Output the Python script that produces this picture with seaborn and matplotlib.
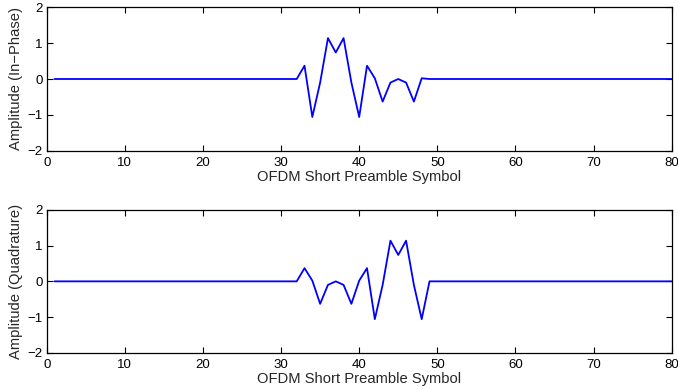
import numpy as np
import pandas as pd
import matplotlib
matplotlib.use("Agg")
import matplotlib.pyplot as plt
import seaborn as sns

# Sample index 1..80
samples = list(range(1, 81))
# Non-zero burst values (samples 33..48)
burst_i = [0.37, -1.06, -0.10, 1.14, 0.74, 1.14, -0.10, -1.06,
           0.37, 0.02, -0.63, -0.10, 0.00, -0.10, -0.63, 0.02]
burst_q = [0.37, 0.02, -0.63, -0.10, 0.00, -0.10, -0.63, 0.02,
           0.37, -1.06, -0.10, 1.14, 0.74, 1.14, -0.10, -1.06]
in_phase = [0.0] * 32 + burst_i + [0.0] * 32
quadrature = [0.0] * 32 + burst_q + [0.0] * 32

x_ticks = [0, 10, 20, 30, 40, 50, 60, 70, 80]
y_ticks = [-2, -1, 0, 1, 2]
x_label = "OFDM Short Preamble Symbol"
y_labels = ["Amplitude (In\u2212Phase)", "Amplitude (Quadrature)"]

sns.set_style("ticks")
plt.rcParams['font.family'] = ['Liberation Sans', 'DejaVu Sans']
plt.rcParams['axes.unicode_minus'] = True

fig = plt.figure(figsize=(6.78, 3.90), dpi=100)
W, H = 678, 390
ax1 = fig.add_axes([46.7 / W, 1 - 150.7 / H, 625 / W, 143.4 / H])
ax2 = fig.add_axes([46.7 / W, 1 - 352.7 / H, 625 / W, 142.7 / H])

df = pd.DataFrame({"n": samples, "I": in_phase, "Q": quadrature})

for ax, col, ylab in [(ax1, "I", y_labels[0]), (ax2, "Q", y_labels[1])]:
    sns.lineplot(data=df, x="n", y=col, ax=ax, color=(0, 0, 1), linewidth=1.3)
    ax.set_xlim(0, 80)
    ax.set_ylim(-2, 2)
    ax.set_xticks(x_ticks)
    ax.set_yticks(y_ticks)
    ax.set_xlabel(x_label, fontsize=10.6, labelpad=1)
    ax.set_ylabel(ylab, fontsize=10.6, labelpad=3)
    ax.tick_params(direction="in", top=True, right=True, length=4, width=0.8,
                   labelsize=9.5, colors="black")
    ax.tick_params(axis="x", pad=4.5)
    ax.tick_params(axis="y", pad=3)
    for s in ax.spines.values():
        s.set_visible(True)
        s.set_linewidth(0.9)
        s.set_color("black")

fig.savefig("out.png", dpi=100)
